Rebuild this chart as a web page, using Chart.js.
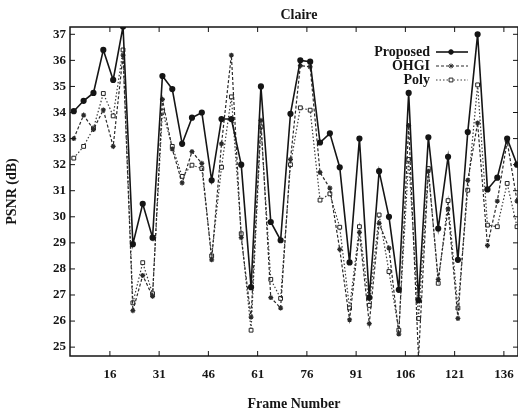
<!DOCTYPE html>
<html>
<head>
<meta charset="utf-8">
<script src="https://cdn.jsdelivr.net/npm/chart.js@4/dist/chart.umd.min.js"></script>
<style>
  html, body { margin: 0; padding: 0; background: #fff; }
  #wrap { width: 518px; height: 417px; }
</style>
</head>
<body>
<div id="wrap"><canvas id="psnrChart" width="518" height="417"></canvas></div>
<script>
// frame numbers of the plotted samples
const frames = [5, 8, 11, 14, 17, 20, 23, 26, 29, 32, 35, 38, 41, 44, 47, 50, 53, 56, 59, 62,
  65, 68, 71, 74, 77, 80, 83, 86, 89, 92, 95, 98, 101, 104, 107, 110, 113, 116, 119, 122,
  125, 128, 131, 134, 137, 140];

// PSNR (dB) per method
const proposed = [34.05, 34.45, 34.75, 36.4, 35.25, 37.3, 28.95, 30.5, 29.2, 35.4,
  34.9, 32.8, 33.8, 34.0, 31.4, 33.75, 33.75, 32.0, 27.3, 35.0,
  29.8, 29.1, 33.95, 36.0, 35.95, 32.85, 33.2, 31.9, 28.25, 33.0,
  26.9, 31.75, 30.0, 27.2, 34.75, 26.8, 33.05, 29.55, 32.3, 28.35,
  33.25, 37.0, 31.05, 31.5, 33.0, 32.0];
const ohgi = [33.0, 33.9, 33.35, 34.1, 32.7, 36.2, 26.4, 27.75, 26.95, 34.5,
  32.6, 31.3, 32.5, 32.05, 28.35, 32.8, 36.2, 29.2, 26.15, 33.7,
  26.9, 26.5, 32.2, 35.8, 35.75, 31.7, 31.1, 28.75, 26.05, 29.4,
  25.9, 29.75, 28.8, 25.5, 33.5, 24.6, 31.75, 27.6, 30.3, 26.1,
  31.4, 33.6, 28.9, 30.6, 32.9, 30.6];
const poly = [32.25, 32.7, 33.4, 34.73, 33.87, 36.4, 26.7, 28.24, 27.05, 34.05,
  32.7, 31.55, 31.98, 31.85, 28.5, 31.9, 34.6, 29.35, 25.65, 33.45,
  27.6, 26.87, 32.0, 34.18, 34.09, 30.64, 30.88, 29.6, 26.5, 29.62,
  26.6, 30.07, 27.9, 25.65, 32.2, 26.1, 31.85, 27.45, 30.62, 26.5,
  31.02, 35.06, 29.68, 29.62, 31.28, 29.62];

const seriesNames = ["Proposed", "OHGI", "Poly"];
const xTicks = [16, 31, 46, 61, 76, 91, 106, 121, 136];
const yTicks = [25, 26, 27, 28, 29, 30, 31, 32, 33, 34, 35, 36, 37];

const FONT = "'Liberation Serif', 'Times New Roman', serif";
const ink = "#151515";

function toPoints(values) {
  return values.map((v, i) => ({ x: frames[i], y: v }));
}

// gnuplot-like frame, inward ticks, title and key
const gnuplotLook = {
  id: "gnuplotLook",
  afterDatasetsDraw(chart) {
    const { ctx, chartArea: a, scales } = chart;
    ctx.save();
    ctx.strokeStyle = ink;
    ctx.lineWidth = 1.5;
    ctx.strokeRect(a.left, a.top, a.right - a.left, a.bottom - a.top);

    ctx.lineWidth = 1;
    yTicks.forEach(v => {
      const y = scales.y.getPixelForValue(v);
      ctx.beginPath();
      ctx.moveTo(a.left, y); ctx.lineTo(a.left + 5, y);
      ctx.moveTo(a.right, y); ctx.lineTo(a.right - 5, y);
      ctx.stroke();
    });
    xTicks.forEach(v => {
      const x = scales.x.getPixelForValue(v);
      ctx.beginPath();
      ctx.moveTo(x, a.bottom); ctx.lineTo(x, a.bottom - 5);
      ctx.moveTo(x, a.top); ctx.lineTo(x, a.top + 5);
      ctx.stroke();
    });

    // title
    ctx.fillStyle = ink;
    ctx.font = "bold 14px " + FONT;
    ctx.textAlign = "center";
    ctx.textBaseline = "middle";
    ctx.fillText("Claire", (a.left + a.right) / 2 + 5, a.top - 12);

    // key, gnuplot style: text then sample line
    const textRight = a.right - 88;
    chart.data.datasets.forEach((ds, i) => {
      const y = a.top + 25 + i * 14;
      ctx.fillStyle = ink;
      ctx.textAlign = "right";
      ctx.fillText(ds.label, textRight, y);

      ctx.strokeStyle = ds.borderColor;
      ctx.lineWidth = ds.borderWidth;
      ctx.setLineDash(ds.borderDash || []);
      ctx.beginPath();
      ctx.moveTo(textRight + 6, y);
      ctx.lineTo(textRight + 38, y);
      ctx.stroke();
      ctx.setLineDash([]);

      ctx.fillStyle = ds.pointBackgroundColor;
      ctx.strokeStyle = ds.pointBorderColor;
      ctx.lineWidth = 1;
      Chart.helpers.drawPoint(ctx, {
        pointStyle: ds.pointStyle,
        radius: ds.pointRadius,
        borderWidth: 1
      }, textRight + 21, y);
    });
    ctx.restore();
  }
};

new Chart(document.getElementById("psnrChart"), {
  type: "line",
  data: {
    datasets: [
      {
        label: seriesNames[0],
        data: toPoints(proposed),
        borderColor: ink,
        borderWidth: 1.6,
        pointStyle: "circle",
        pointRadius: 2.3,
        pointBackgroundColor: ink,
        pointBorderColor: ink,
        tension: 0
      },
      {
        label: seriesNames[1],
        data: toPoints(ohgi),
        borderColor: "#2a2a2a",
        borderWidth: 1.2,
        borderDash: [3, 2],
        pointStyle: "star",
        pointRadius: 2.5,
        pointBackgroundColor: "#2a2a2a",
        pointBorderColor: "#2a2a2a",
        tension: 0
      },
      {
        label: seriesNames[2],
        data: toPoints(poly),
        borderColor: "#3a3a3a",
        borderWidth: 1.2,
        borderDash: [1.5, 2],
        pointStyle: "rect",
        pointRadius: 2.7,
        pointBackgroundColor: "#fff",
        pointBorderColor: "#222",
        pointBorderWidth: 1,
        tension: 0
      }
    ]
  },
  options: {
    responsive: false,
    animation: false,
    layout: { autoPadding: false, padding: { top: 27, right: 0, left: 0, bottom: 0 } },
    plugins: {
      legend: { display: false },
      tooltip: { enabled: false }
    },
    scales: {
      x: {
        type: "linear",
        min: 3.85,
        max: 140.3,
        afterBuildTicks: s => { s.ticks = xTicks.map(v => ({ value: v })); },
        afterFit: s => { s.height = 61; s.paddingRight = 0; s.paddingLeft = 0; },
        grid: { display: false, drawTicks: true, tickLength: 10 },
        border: { display: false },
        ticks: {
          color: ink,
          padding: 1,
          maxRotation: 0,
          autoSkip: false,
          font: { family: FONT, size: 13, weight: "bold" }
        },
        title: {
          display: true,
          text: "Frame Number",
          color: ink,
          padding: { top: 14 },
          font: { family: FONT, size: 14, weight: "bold" }
        }
      },
      y: {
        min: 24.66,
        max: 37.28,
        afterBuildTicks: s => { s.ticks = yTicks.map(v => ({ value: v })); },
        afterFit: s => { s.width = 70; s.paddingTop = 0; s.paddingBottom = 0; },
        grid: { display: false, drawTicks: false },
        border: { display: false },
        ticks: {
          color: ink,
          padding: 4,
          autoSkip: false,
          font: { family: FONT, size: 13, weight: "bold" }
        },
        title: {
          display: true,
          text: "PSNR (dB)",
          color: ink,
          padding: { bottom: 4 },
          font: { family: FONT, size: 14, weight: "bold" }
        }
      }
    }
  },
  plugins: [gnuplotLook]
});
</script>
</body>
</html>
